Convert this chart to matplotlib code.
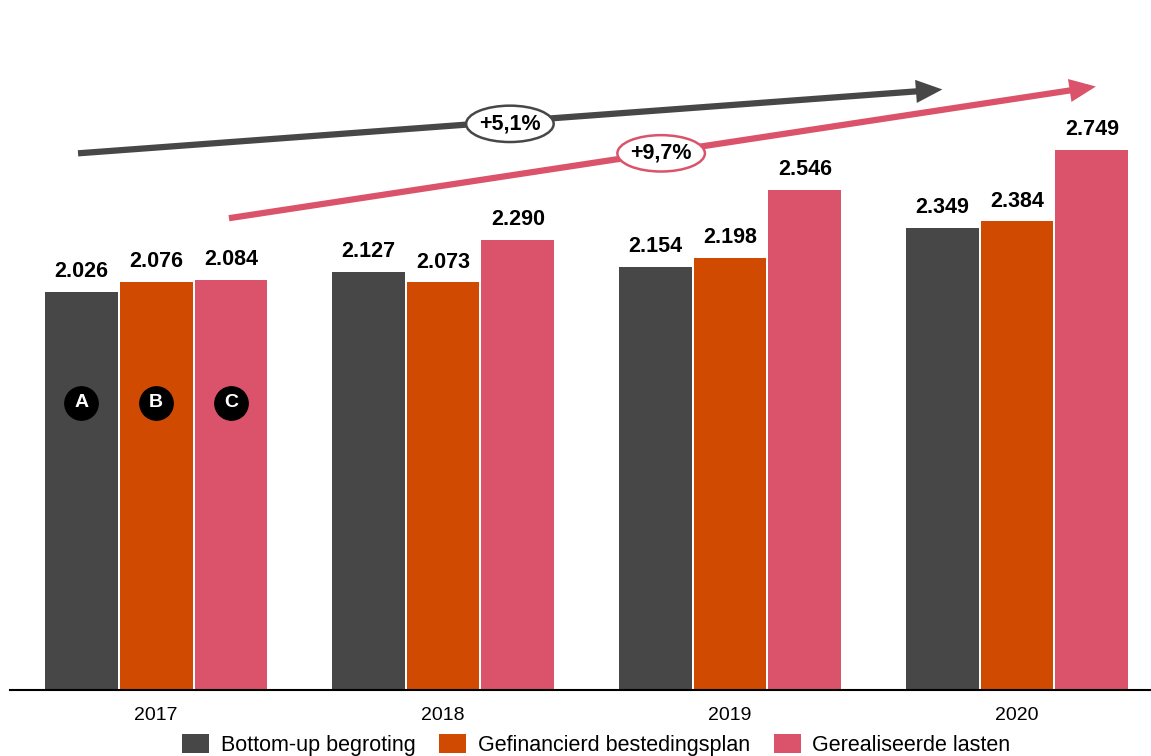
import matplotlib.pyplot as plt
import numpy as np
from matplotlib.patches import Ellipse

plt.rcParams['font.family'] = ['Liberation Sans', 'DejaVu Sans']

# Budget figures per year (x mln)
years = ['2017', '2018', '2019', '2020']
bottom_up = [2.026, 2.127, 2.154, 2.349]
financed = [2.076, 2.073, 2.198, 2.384]
realised = [2.084, 2.290, 2.546, 2.749]
series_names = ['Bottom-up begroting', 'Gefinancierd bestedingsplan', 'Gerealiseerde lasten']
series_markers = ['A', 'B', 'C']
growth_labels = ['+5,1%', '+9,7%']

colors = ['#474747', '#D04A02', '#DB536A']

fig = plt.figure(figsize=(11.51, 7.56), dpi=100)
ax = fig.add_axes([10 / 1151, 66 / 756, 1141 / 1151, 690 / 756])

x = np.arange(len(years))
width = 0.254
step = 0.261

for i, (vals, col, name) in enumerate(zip([bottom_up, financed, realised], colors, series_names)):
    pos = x + (i - 1) * step
    ax.bar(pos, vals, width, color=col, label=name)
    for p, v in zip(pos, vals):
        ax.text(p, v + 0.05, f'{v:.3f}', ha='center', va='bottom',
                fontsize=15.5, fontweight='bold')
    # circled letter inside the first group
    ax.plot(pos[0], 1.46, 'o', ms=24, color='black', zorder=4)
    ax.text(pos[0], 1.46, series_markers[i], ha='center', va='center',
            color='white', fontsize=14, fontweight='bold', zorder=5)

ax.set_xlim(-0.509, 3.467)
ax.set_ylim(0, 3.51)

# growth arrows
arrow_style = '-|>,head_length=0.8,head_width=0.35'
ax.annotate('', xy=(2.74, 3.055), xytext=(-0.272, 2.73),
            arrowprops=dict(arrowstyle=arrow_style, mutation_scale=14,
                            lw=4.5, color=colors[0], shrinkA=0, shrinkB=0,
                            joinstyle='miter', capstyle='butt'))
ax.annotate('', xy=(3.275, 3.07), xytext=(0.254, 2.40),
            arrowprops=dict(arrowstyle=arrow_style, mutation_scale=14,
                            lw=4.5, color=colors[2], shrinkA=0, shrinkB=0,
                            joinstyle='miter', capstyle='butt'))

for (cx, cy), txt, col in zip([(1.233, 2.88), (1.760, 2.73)], growth_labels, [colors[0], colors[2]]):
    ax.add_patch(Ellipse((cx, cy), 0.305, 0.185, facecolor='white',
                         edgecolor=col, lw=1.8, zorder=3))
    ax.text(cx, cy, txt, ha='center', va='center', fontsize=15.5,
            fontweight='bold', zorder=4)

for s in ['top', 'right', 'left']:
    ax.spines[s].set_visible(False)
ax.spines['bottom'].set_linewidth(1.5)
ax.set_yticks([])
ax.set_xticks(x)
ax.set_xticklabels(years, fontsize=14)
ax.tick_params(axis='x', length=0, pad=12)

fig.legend(loc='center', bbox_to_anchor=(0.518, 11 / 756), ncol=3, frameon=False,
           fontsize=15.5, handlelength=1.25, handleheight=0.95, columnspacing=1.1,
           handletextpad=0.55)

fig.savefig('out.png', dpi=100)
